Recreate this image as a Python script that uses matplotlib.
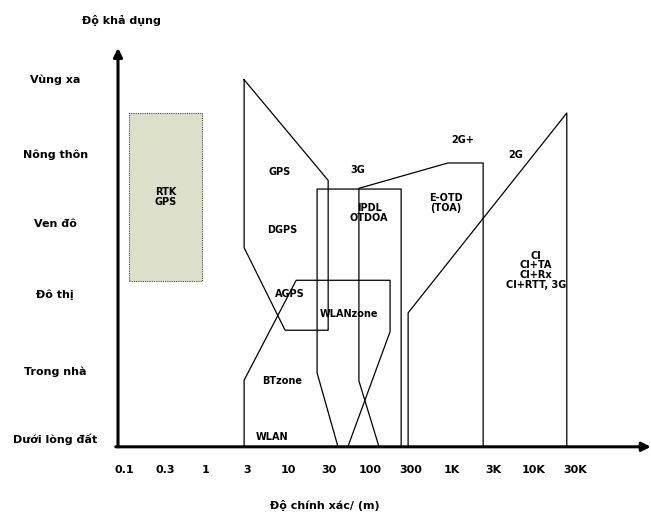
import matplotlib
matplotlib.use("Agg")
import matplotlib.pyplot as plt
from matplotlib.patches import Rectangle

# the original uses a wide bold sans; DejaVu Sans Bold is closest in width
plt.rcParams['font.family'] = ['DejaVu Sans']
plt.rcParams['font.weight'] = 'bold'

# x = position of accuracy tick (index), y = availability level
TICK_LABELS = ['0.1', '0.3', '1', '3', '10', '30', '100', '300', '1K', '3K', '10K', '30K']
LEVEL_LABELS = ['Dưới lòng đất', 'Trong nhà', 'Đô thị', 'Ven đô', 'Nông thôn', 'Vùng xa']
LEVEL_POS = [0.03, 0.95, 2.02, 3.0, 3.95, 4.99]
BASE = -0.08

# RTK GPS box: x0, x1, y0, y1
RTK_BOX = [0.12, 1.90, 2.21, 4.53]

# technology regions (outline vertices)
GPS_X = [2.93, 4.98, 4.98, 3.93, 2.93, 2.93]
GPS_Y = [4.99, 3.60, 1.53, 1.53, 2.67, 4.99]
AGPS_X = [2.93, 2.93, 4.20, 6.49, 6.49, 5.46]
AGPS_Y = [BASE, 0.84, 2.22, 2.22, 1.51, BASE]
ZONE3G_X = [5.22, 4.71, 4.71, 6.76, 6.76]
ZONE3G_Y = [BASE, 0.94, 3.48, 3.48, BASE]
IPDL_X = [6.22, 5.73, 5.73, 7.90, 8.76, 8.76]
IPDL_Y = [BASE, 0.83, 3.49, 3.84, 3.84, BASE]
G2_X = [6.93, 6.93, 10.80, 10.80]
G2_Y = [BASE, 1.77, 4.53, BASE]

# region labels: text, x, y
LABELS = [
    ('RTK\nGPS', 1.02, 3.37),
    ('GPS', 3.80, 3.72),
    ('DGPS', 3.85, 2.91),
    ('AGPS', 4.05, 2.03),
    ('BTzone', 3.85, 0.83),
    ('WLAN', 3.61, 0.06),
    ('WLANzone', 5.49, 1.75),
    ('3G', 5.71, 3.74),
    ('IPDL\nOTDOA', 5.98, 3.15),
    ('E-OTD\n(TOA)', 7.85, 3.29),
    ('2G+', 8.27, 4.16),
    ('2G', 9.54, 3.95),
    ('CI\nCI+TA\nCI+Rx\nCI+RTT, 3G', 10.05, 2.36),
]

fig = plt.figure(figsize=(6.51, 5.14), dpi=100)
ax = fig.add_axes([0, 0, 1, 1])
ax.set_xlim(-3.024, 12.854)
ax.set_ylim(-1.008, 6.091)
ax.axis('off')

fs = 8
fs_small = 7

# RTK box
ax.add_patch(Rectangle((RTK_BOX[0], RTK_BOX[2]), RTK_BOX[1] - RTK_BOX[0], RTK_BOX[3] - RTK_BOX[2],
                       facecolor='#dcdfc9', edgecolor='#444444', lw=0.8, linestyle=(0, (1, 1))))

for xs, ys in [(GPS_X, GPS_Y), (AGPS_X, AGPS_Y), (ZONE3G_X, ZONE3G_Y), (IPDL_X, IPDL_Y), (G2_X, G2_Y)]:
    ax.plot(xs, ys, color='black', lw=0.9)

# axes arrows
ax.annotate('', xy=(-0.146, 5.43), xytext=(-0.146, BASE),
            arrowprops=dict(arrowstyle='-|>', lw=2.2, color='black', mutation_scale=13, shrinkA=0, shrinkB=0))
ax.annotate('', xy=(12.85, BASE), xytext=(-0.2, BASE),
            arrowprops=dict(arrowstyle='-|>', lw=2.2, color='black', mutation_scale=13, shrinkA=0, shrinkB=0))

for txt, x, y in LABELS:
    ax.text(x, y, txt, ha='center', va='center', fontsize=fs_small, linespacing=0.95)

for lab, y in zip(LEVEL_LABELS, LEVEL_POS):
    ax.text(-1.68, y, lab, ha='center', va='center', fontsize=fs)

for i, lab in enumerate(TICK_LABELS):
    ax.text(i, -0.40, lab, ha='center', va='center', fontsize=fs)

ax.text(-0.05, 5.815, 'Độ khả dụng', ha='center', va='center', fontsize=fs)
ax.text(4.90, -0.884, 'Độ chính xác/ (m)', ha='center', va='center', fontsize=fs)

fig.savefig('out.png', dpi=100)
